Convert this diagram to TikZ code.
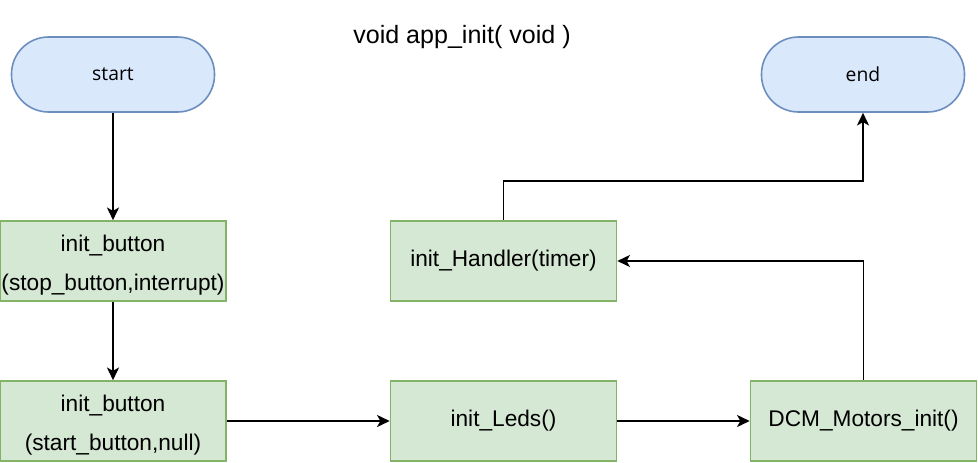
\documentclass[tikz,border=0pt]{standalone}
\usepackage{fontspec}
\setmainfont{Liberation Sans}
\newfontfamily\termfont{Open Sans}
\usetikzlibrary{arrows.meta,positioning}
\definecolor{termfill}{HTML}{DAE8FC}
\definecolor{termline}{HTML}{6C8EBF}
\definecolor{procfill}{HTML}{D5E8D4}
\definecolor{procline}{HTML}{82B366}
\newcommand{\firstline}{\rule{0pt}{18.5pt}}
\tikzset{
  terminal/.style={draw=termline, fill=termfill, line width=1.2pt,
    minimum width=203*0.75pt, minimum height=75*0.75pt,
    rounded corners=37*0.75pt, inner sep=0pt,
    font=\termfont\fontsize{14.5}{17}\selectfont},
  process/.style={draw=procline, fill=procfill, line width=1.2pt,
    minimum width=226*0.75pt, minimum height=80*0.75pt, inner sep=0pt,
    align=center, font=\fontsize{17}{29}\selectfont},
  flow/.style={draw=black, line width=1.4pt,
    -{Stealth[length=9.5pt, width=9pt, inset=2.5pt]}},
}
\begin{document}
\begin{tikzpicture}[x=0.75pt, y=-0.75pt]
  \useasboundingbox (0,0) rectangle (978,462);
  \node (title) at (462,37) {\fontsize{18.8}{22}\selectfont void app\_init( void )};
  \node[terminal] (start) at (113,74.5) {start};
  \node[terminal] (end) at (863,74.5) {end};
  \node[process] (btnstop) at (113,261) {\firstline init\_button\\(stop\_button,interrupt)};
  \node[process] (btnstart) at (113,421) {\firstline init\_button\\(start\_button,null)};
  \node[process] (leds) at (503.5,421) {init\_Leds()};
  \node[process] (motors) at (863.5,421) {DCM\_Motors\_init()};
  \node[process] (handler) at (503.5,261) {init\_Handler(timer)};
  \coordinate (upper) at (503.5,181);
  \draw[flow] (start) -- (btnstop);
  \draw[flow] (btnstop) -- (btnstart);
  \draw[flow] (btnstart) -- (leds);
  \draw[flow] (leds) -- (motors);
  \draw[flow] (motors.north) |- (handler.east);
  \draw[flow] (handler.north) -- (upper) -| (end.south);
\end{tikzpicture}
\end{document}
